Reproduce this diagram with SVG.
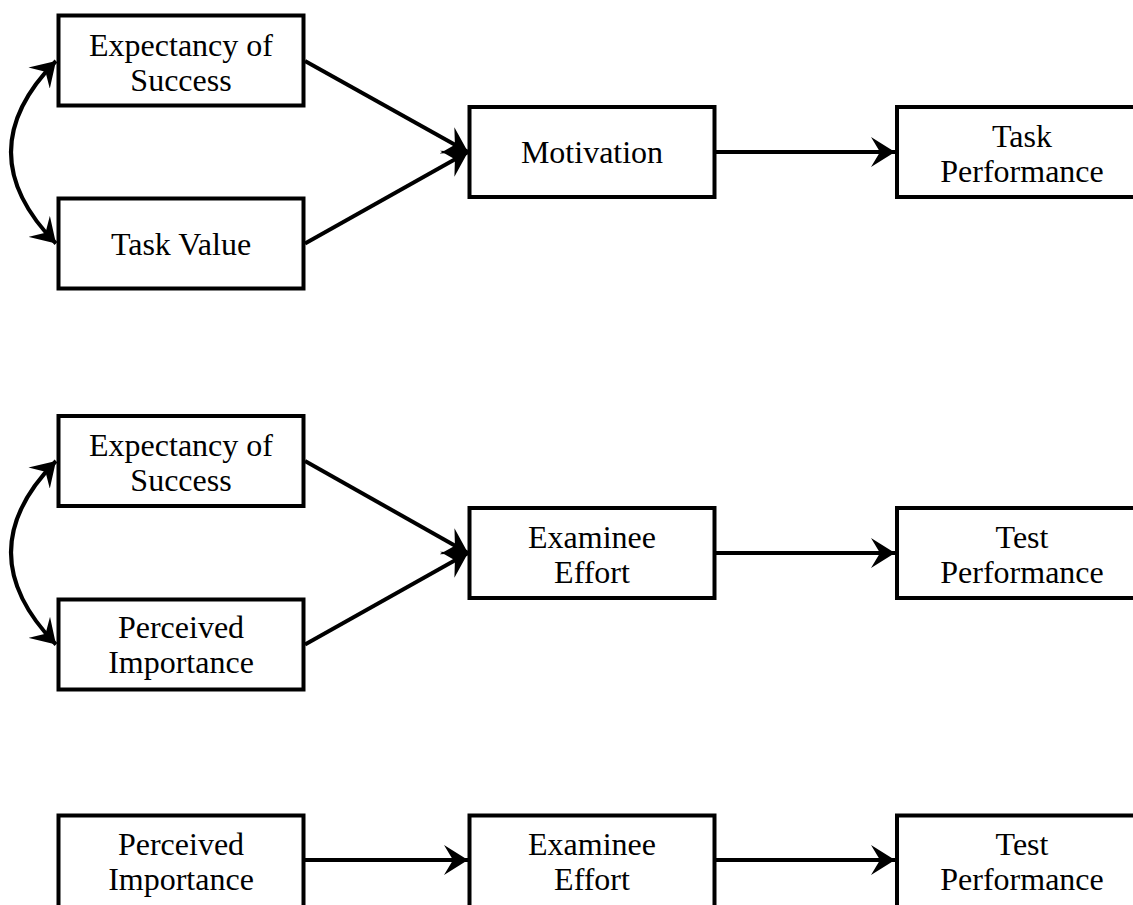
<svg xmlns="http://www.w3.org/2000/svg" width="1133" height="905" viewBox="0 0 1133 905">
<style>
.box{fill:#fff;stroke:#000;stroke-width:4}
.lbl{font-family:"Liberation Serif","Times New Roman",serif;font-size:32px;fill:#000;text-anchor:middle}
.edge{fill:none;stroke:#000;stroke-width:4}
</style>
<defs>
<marker id="ah" viewBox="0 0 25 30" refX="24" refY="15" markerWidth="25" markerHeight="30" markerUnits="userSpaceOnUse" orient="auto-start-reverse">
<path d="M0,0 L24,15 L0,30 L9,15 Z" fill="#000"/>
</marker>
</defs>
<rect width="1133" height="905" fill="#fff"/>
<g id="connectors">
<path class="edge" d="M305,61 L468,152" marker-end="url(#ah)"/>
<path class="edge" d="M305,243.5 L468,152" marker-end="url(#ah)"/>
<path class="edge" d="M716,152 L895,152" marker-end="url(#ah)"/>
<path class="edge" d="M56,61 Q-34,152 56,243.5" marker-start="url(#ah)" marker-end="url(#ah)"/>
<path class="edge" d="M305,461 L468,553" marker-end="url(#ah)"/>
<path class="edge" d="M305,644.5 L468,553" marker-end="url(#ah)"/>
<path class="edge" d="M716,553 L895,553" marker-end="url(#ah)"/>
<path class="edge" d="M56,461 Q-34,552 56,644.5" marker-start="url(#ah)" marker-end="url(#ah)"/>
<path class="edge" d="M305,860 L468,860" marker-end="url(#ah)"/>
<path class="edge" d="M716,860 L895,860" marker-end="url(#ah)"/>
</g>
<g id="n1"><rect class="box" x="58.5" y="15.5" width="245" height="90"/><text class="lbl" x="181" y="56">Expectancy of</text><text class="lbl" x="181" y="91">Success</text></g>
<g id="n2"><rect class="box" x="58.5" y="198.5" width="245" height="90"/><text class="lbl" x="181" y="254.5">Task Value</text></g>
<g id="n3"><rect class="box" x="469.5" y="107" width="245" height="90"/><text class="lbl" x="592" y="163">Motivation</text></g>
<g id="n4"><rect class="box" x="897" y="107" width="245" height="90"/><text class="lbl" x="1022" y="147">Task</text><text class="lbl" x="1022" y="182">Performance</text></g>
<g id="n5"><rect class="box" x="58.5" y="416" width="245" height="90"/><text class="lbl" x="181" y="456">Expectancy of</text><text class="lbl" x="181" y="491">Success</text></g>
<g id="n6"><rect class="box" x="58.5" y="599.5" width="245" height="90"/><text class="lbl" x="181" y="638">Perceived</text><text class="lbl" x="181" y="673">Importance</text></g>
<g id="n7"><rect class="box" x="469.5" y="508" width="245" height="90"/><text class="lbl" x="592" y="548">Examinee</text><text class="lbl" x="592" y="583">Effort</text></g>
<g id="n8"><rect class="box" x="897" y="508" width="245" height="90"/><text class="lbl" x="1022" y="548">Test</text><text class="lbl" x="1022" y="583">Performance</text></g>
<g id="n9"><rect class="box" x="58.5" y="815.5" width="245" height="93"/><text class="lbl" x="181" y="855">Perceived</text><text class="lbl" x="181" y="890">Importance</text></g>
<g id="n10"><rect class="box" x="469.5" y="815.5" width="245" height="93"/><text class="lbl" x="592" y="855">Examinee</text><text class="lbl" x="592" y="890">Effort</text></g>
<g id="n11"><rect class="box" x="897" y="815.5" width="245" height="93"/><text class="lbl" x="1022" y="855">Test</text><text class="lbl" x="1022" y="890">Performance</text></g>
</svg>
